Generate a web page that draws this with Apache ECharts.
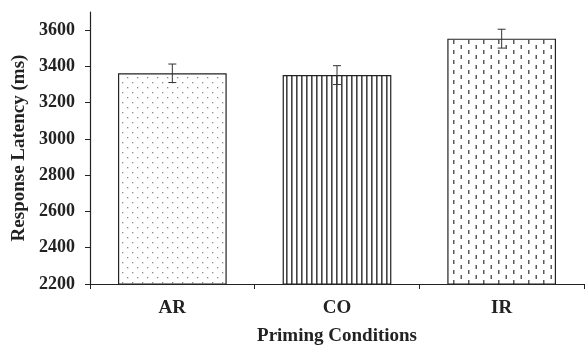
<!DOCTYPE html>
<html>
<head>
<meta charset="utf-8">
<script src="https://cdn.jsdelivr.net/npm/echarts@6/dist/echarts.min.js"></script>
<style>
  html, body { margin: 0; padding: 0; background: #fff; }
  #main { width: 587px; height: 346px; }
</style>
</head>
<body>
<div id="main"></div>
<script>
// priming conditions vs response latency
var categories = ['AR', 'CO', 'IR'];
var latency = [3362, 3352, 3553];
var errors = [51, 52, 52];
var yTicks = [2200, 2400, 2600, 2800, 3000, 3200, 3400, 3600];

function makePattern(w, h, draw) {
    var c = document.createElement('canvas');
    c.width = w;
    c.height = h;
    var ctx = c.getContext('2d');
    ctx.fillStyle = '#fff';
    ctx.fillRect(0, 0, w, h);
    draw(ctx);
    return { image: c, repeat: 'repeat' };
}

// dots for AR
var dotPattern = makePattern(10, 10, function (ctx) {
    ctx.fillStyle = '#8a8a8a';
    ctx.fillRect(2, 2, 1.3, 1.3);
    ctx.fillRect(7, 7, 1.3, 1.3);
});
// vertical lines for CO
var linePattern = makePattern(5, 5, function (ctx) {
    ctx.fillStyle = '#444';
    ctx.fillRect(1, 0, 1.6, 5);
});
// staggered dashes for IR
var dashPattern = makePattern(15, 10, function (ctx) {
    ctx.fillStyle = '#5a5a5a';
    ctx.fillRect(3, 0, 1.5, 4);
    ctx.fillRect(10.5, 5, 1.5, 4);
});
var patterns = [dotPattern, linePattern, dashPattern];

var myChart = echarts.init(document.getElementById('main'));

var barData = latency.map(function (v, i) {
    return { value: v, itemStyle: { color: patterns[i] } };
});
var errData = latency.map(function (v, i) {
    return [i, v - errors[i], v + errors[i]];
});

var font = '"Liberation Serif", "Times New Roman", serif';

var option = {
    animation: false,
    backgroundColor: '#fff',
    grid: { left: 90, top: 12, right: 3, bottom: 62, outerBoundsMode: 'none', containLabel: false },
    xAxis: {
        type: 'category',
        data: categories,
        name: 'Priming Conditions',
        nameLocation: 'middle',
        nameGap: 43,
        nameTextStyle: { fontFamily: font, fontWeight: 'bold', fontSize: 19, color: '#222' },
        axisLine: { lineStyle: { color: '#222', width: 1.2 } },
        axisTick: { show: true, length: 5, lineStyle: { color: '#222' } },
        axisLabel: { fontFamily: font, fontWeight: 'bold', fontSize: 19, color: '#222', margin: 15 }
    },
    yAxis: {
        type: 'value',
        min: 2200,
        max: 3700,
        interval: 200,
        name: 'Response Latency (ms)',
        nameLocation: 'middle',
        nameGap: 58,
        nameTextStyle: { fontFamily: font, fontWeight: 'bold', fontSize: 19, color: '#222' },
        splitLine: { show: false },
        axisLine: { show: true, lineStyle: { color: '#222', width: 1.2 } },
        axisTick: { show: true, length: 5, lineStyle: { color: '#222' } },
        axisLabel: {
            fontFamily: font, fontWeight: 'bold', fontSize: 18, color: '#222', margin: 15,
            showMaxLabel: false,
            formatter: function (v) { return yTicks.indexOf(v) >= 0 ? String(v) : ''; }
        }
    },
    series: [
        {
            type: 'bar',
            data: barData,
            barCategoryGap: '34%',
            itemStyle: { borderColor: '#222', borderWidth: 1.2 }
        },
        {
            type: 'custom',
            data: errData,
            z: 10,
            renderItem: function (params, api) {
                var x = api.value(0);
                var lo = api.coord([x, api.value(1)]);
                var hi = api.coord([x, api.value(2)]);
                var cap = 4;
                var style = { stroke: '#333', lineWidth: 1 };
                return {
                    type: 'group',
                    children: [
                        { type: 'line', shape: { x1: hi[0], y1: hi[1], x2: lo[0], y2: lo[1] }, style: style },
                        { type: 'line', shape: { x1: hi[0] - cap, y1: hi[1], x2: hi[0] + cap, y2: hi[1] }, style: style },
                        { type: 'line', shape: { x1: lo[0] - cap, y1: lo[1], x2: lo[0] + cap, y2: lo[1] }, style: style }
                    ]
                };
            }
        }
    ]
};

myChart.setOption(option);
</script>
</body>
</html>
